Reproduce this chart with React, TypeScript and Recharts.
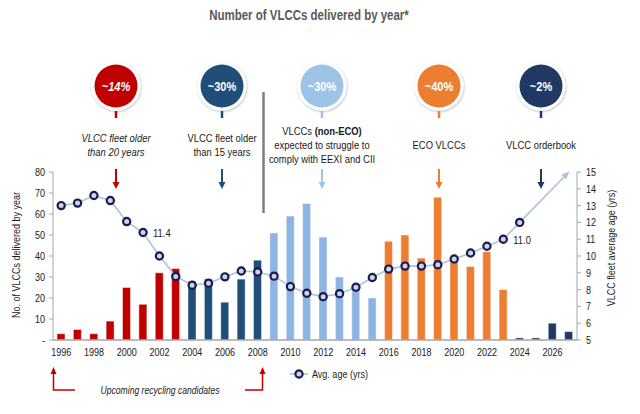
import React from "react";
import { ComposedChart, Bar, Line, XAxis, YAxis, Cell, LabelList } from "recharts";

const years = [1996, 1997, 1998, 1999, 2000, 2001, 2002, 2003, 2004, 2005, 2006, 2007, 2008, 2009, 2010, 2011, 2012, 2013, 2014, 2015, 2016, 2017, 2018, 2019, 2020, 2021, 2022, 2023, 2024, 2025, 2026, 2027];
const delivered = [3, 5, 3, 9, 25, 17, 32, 34, 28, 29, 18, 29, 38, 51, 59, 65, 49, 30, 25, 20, 47, 50, 39, 68, 38, 35, 42, 24, 1, 1, 8, 4];
const avgAge: (number | null)[] = [13.0, 13.15, 13.6, 13.3, 12.05, 11.4, 10.0, 8.78, 8.26, 8.38, 8.76, 9.11, 9.05, 8.8, 8.18, 7.78, 7.58, 7.76, 8.14, 8.72, 9.22, 9.4, 9.4, 9.48, 9.82, 10.18, 10.58, 11.0, 12.0, null, null, null];
const trendYears = [2024, 2027];
const trendValues = [12, 15];
const labelledYears = [2001, 2023];
const leftTicks = [0, 10, 20, 30, 40, 50, 60, 70, 80];
const rightTicks = [5, 6, 7, 8, 9, 10, 11, 12, 13, 14, 15];

const callouts = [
  { pct: "~14%", lines: [["VLCC fleet older"], ["than 20 years"]], italic: true },
  { pct: "~30%", lines: [["VLCC fleet older"], ["than 15 years"]], italic: false },
  { pct: "~30%", lines: [["VLCCs ", "(non-ECO)"], ["expected to struggle to"], ["comply with EEXI and CII"]], italic: false },
  { pct: "~40%", lines: [["ECO VLCCs"]], italic: false },
  { pct: "~2%", lines: [["VLCC orderbook"]], italic: false },
];

const RED = "#c00000";
const DARK = "#1f4e79";
const LIGHT = "#8db4e2";
const ORANGE = "#ed7d31";
const NAVY = "#1f3864";
const LINE = "#a9c4de";
const FONT = "'Liberation Sans', Arial, sans-serif";
const SX = 0.82;

const calloutColors = [RED, DARK, "#9dc3e6", ORANGE, NAVY];
const calloutX = [116, 222, 322, 439, 541];

function barColor(y: number) {
  if (y <= 2003) return RED;
  if (y <= 2008) return DARK;
  if (y <= 2015) return LIGHT;
  if (y <= 2023) return ORANGE;
  return NAVY;
}

const data = years.map((year, i) => {
  const ti = trendYears.indexOf(year);
  return {
    year,
    delivered: delivered[i],
    age: avgAge[i],
    trend: ti >= 0 ? trendValues[ti] : null,
  };
});

const NText = (p: any) => {
  const { x, y, rotate, anchor = "start", size = 12, weight = "normal", italic = false, fill = "#1a1a1a", children, baseline } = p;
  const tr = `translate(${x},${y})${rotate ? ` rotate(${rotate})` : ""} scale(${SX},1)`;
  return (
    <text
      transform={tr}
      textAnchor={anchor}
      fontSize={size}
      fontWeight={weight}
      fontStyle={italic ? "italic" : "normal"}
      fill={fill}
      fontFamily={FONT}
      dominantBaseline={baseline}
    >
      {children}
    </text>
  );
};

const makeTick = (kind: "x" | "left" | "right", fmt?: (v: any) => string) => (props: any) => {
  const { x, y, payload } = props;
  const v = fmt ? fmt(payload.value) : String(payload.value);
  if (kind === "x") {
    return (
      <g key={`t${payload.value}`}>
        <NText x={x} y={y + 8} anchor="middle" size={11}>{v}</NText>
      </g>
    );
  }
  return (
    <g key={`t${payload.value}`}>
      <NText x={x} y={y + 4} anchor={kind === "left" ? "end" : "start"} size={11}>{v}</NText>
    </g>
  );
};

const AgeDot = (props: any) => {
  const { cx, cy, payload } = props;
  if (cx == null || cy == null || payload.age == null) return <g key={props.key} />;
  return <circle key={props.key} cx={cx} cy={cy} r={3.6} fill="#c9d6e4" stroke="#1b1b4f" strokeWidth={2.2} />;
};

let lastTrendPt: { x: number; y: number } | null = null;
const TrendDot = (props: any) => {
  const { cx, cy, payload } = props;
  if (cx == null || cy == null || payload.trend == null) return <g key={props.key} />;
  if (payload.year === trendYears[0]) {
    lastTrendPt = { x: cx, y: cy };
    return <g key={props.key} />;
  }
  if (!lastTrendPt) return <g key={props.key} />;
  const ang = Math.atan2(cy - lastTrendPt.y, cx - lastTrendPt.x);
  const len = 7;
  const w = 3.5;
  const bx = cx - len * Math.cos(ang);
  const by = cy - len * Math.sin(ang);
  const px = -Math.sin(ang) * w;
  const py = Math.cos(ang) * w;
  return (
    <polygon
      key={props.key}
      points={`${cx},${cy} ${bx + px},${by + py} ${bx - px},${by - py}`}
      fill={LINE}
    />
  );
};

const AgeLabel = (props: any) => {
  const { x, y, value, index } = props;
  if (value == null || !labelledYears.includes(years[index])) return null;
  return (
    <NText x={x + 10} y={y + 5} size={11.5}>
      {Number(value).toFixed(1)}
    </NText>
  );
};

export default function App() {
  return (
    <div style={{ position: "absolute", left: 0, top: 0, width: 640, height: 414, background: "#fff" }}>
      <ComposedChart
        width={640}
        height={414}
        data={data}
        margin={{ top: 172, right: 0, bottom: 54, left: 0 }}
        style={{ position: "absolute", left: 0, top: 0 }}
      >
        <XAxis
          dataKey="year"
          interval={1}
          tickLine={false}
          axisLine={{ stroke: "#a6a6a6", strokeWidth: 1.5 }}
          tick={makeTick("x")}
          height={20}
        />
        <YAxis
          yAxisId="left"
          orientation="left"
          width={53}
          domain={[0, 80]}
          ticks={leftTicks}
          axisLine={{ stroke: "#a6a6a6" }}
          tickLine={{ stroke: "#a6a6a6" }}
          tickSize={4}
          tickMargin={4}
          tick={makeTick("left", (v: number) => (v === 0 ? "-" : String(v)))}
          interval={0}
        />
        <YAxis
          yAxisId="right"
          orientation="right"
          width={63}
          domain={[5, 15]}
          ticks={rightTicks}
          axisLine={{ stroke: "#a6a6a6" }}
          tickLine={{ stroke: "#a6a6a6" }}
          tickSize={4}
          tickMargin={5}
          tick={makeTick("right")}
          interval={0}
        />
        <Bar yAxisId="left" dataKey="delivered" barSize={8} isAnimationActive={false} stroke="rgba(255,255,255,0.45)" strokeWidth={1}>
          {data.map((d, i) => (
            <Cell key={i} fill={barColor(d.year)} />
          ))}
        </Bar>
        <Line
          yAxisId="right"
          dataKey="trend"
          stroke={LINE}
          strokeWidth={1.6}
          connectNulls
          dot={TrendDot}
          activeDot={false}
          isAnimationActive={false}
        />
        <Line
          yAxisId="right"
          dataKey="age"
          stroke={LINE}
          strokeWidth={1.6}
          dot={AgeDot}
          activeDot={false}
          isAnimationActive={false}
        >
          <LabelList dataKey="age" content={AgeLabel} />
        </Line>
      </ComposedChart>

      <svg width={640} height={414} style={{ position: "absolute", left: 0, top: 0, pointerEvents: "none" }} fontFamily={FONT}>
        <defs>
          <filter id="sh" x="-30%" y="-30%" width="160%" height="160%">
            <feDropShadow dx="0.5" dy="1" stdDeviation="1.3" floodColor="#000" floodOpacity="0.3" />
          </filter>
        </defs>
        <NText x={309} y={20} anchor="middle" size={14} weight="bold" fill="#595959">
          Number of VLCCs delivered by year*
        </NText>

        {callouts.map((c, i) => {
          const x = calloutX[i];
          const col = calloutColors[i];
          const n = c.lines.length;
          const baseY = n === 1 ? 149 : n === 2 ? 142 : 135;
          return (
            <g key={i}>
              <circle cx={x} cy={86} r={24.5} fill="#fff" filter="url(#sh)" />
              <circle cx={x} cy={86} r={21.5} fill={col} />
              <NText x={x} y={90.5} anchor="middle" size={13.5} weight="bold" italic={c.italic} fill="#fff">
                {c.pct}
              </NText>
              <line x1={x} y1={111} x2={x} y2={118} stroke={col} strokeWidth={2.5} />
              {c.lines.map((ln, j) => (
                <NText key={j} x={x} y={baseY + j * 14} anchor="middle" size={11.5} italic={c.italic}>
                  {ln.map((seg, k) => (
                    <tspan key={k} fontWeight={k === 1 ? "bold" : "normal"}>{seg}</tspan>
                  ))}
                </NText>
              ))}
              <line x1={x} y1={169} x2={x} y2={183} stroke={col} strokeWidth={2} />
              <polygon points={`${x - 3.5},${182} ${x + 3.5},${182} ${x},${189}`} fill={col} />
            </g>
          );
        })}

        <line x1={263.5} y1={92} x2={263.5} y2={213} stroke="#7f7f7f" strokeWidth={2.5} />

        <NText x={16} y={255} rotate={-90} anchor="middle" baseline="central" size={11}>
          No. of VLCCs delivered by year
        </NText>
        <NText x={611} y={248} rotate={-90} anchor="middle" baseline="central" size={11}>
          VLCC fleet average age (yrs)
        </NText>

        <line x1={290} y1={374} x2={308} y2={374} stroke={LINE} strokeWidth={1.6} />
        <circle cx={299} cy={374} r={3.6} fill="#c9d6e4" stroke="#1b1b4f" strokeWidth={2.2} />
        <NText x={312} y={378} size={11}>Avg. age (yrs)</NText>

        <path d="M75,390 L53.5,390 L53.5,373" fill="none" stroke={RED} strokeWidth={1.5} />
        <polygon points="50.5,374 56.5,374 53.5,367" fill={RED} />
        <path d="M245,390 L262.5,390 L262.5,373" fill="none" stroke={RED} strokeWidth={1.5} />
        <polygon points="259.5,374 265.5,374 262.5,367" fill={RED} />
        <NText x={160} y={394} anchor="middle" size={10.5} italic fill="#222">
          Upcoming recycling candidates
        </NText>
      </svg>
    </div>
  );
}
